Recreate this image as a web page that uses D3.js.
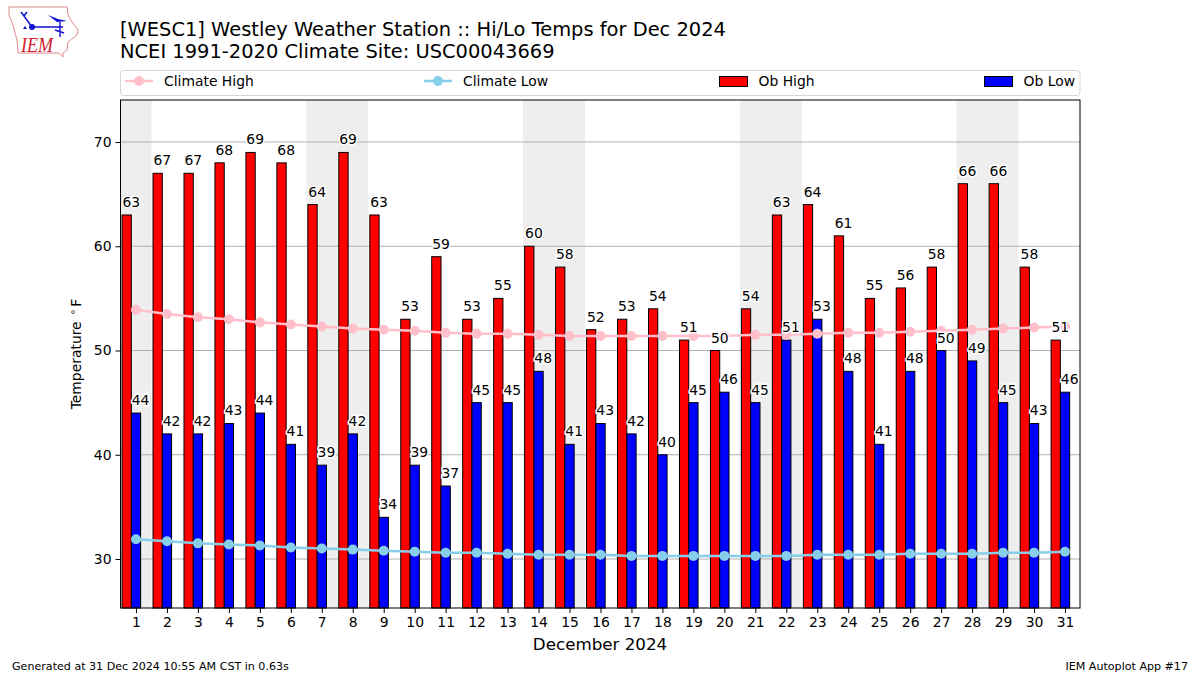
<!DOCTYPE html>
<html>
<head>
<meta charset="utf-8">
<script src="https://cdn.jsdelivr.net/npm/d3@7"></script>
<style>
  body { margin: 0; background: #fff; }
  svg { display: block; }
  text { font-family: "DejaVu Sans", sans-serif; fill: #000; }
</style>
</head>
<body>
<main></main>
<script>
// values
const days = d3.range(1, 32);
const obHigh = [63,67,67,68,69,68,64,69,63,53,59,53,55,60,58,52,53,54,51,50,54,63,64,61,55,56,58,66,66,58,51];
const obLow = [44,42,42,43,44,41,39,42,34,39,37,45,45,48,41,43,42,40,45,46,45,51,53,48,41,48,50,49,45,43,46];
const climateHigh = [53.9,53.5,53.2,53.0,52.7,52.5,52.3,52.1,52.0,51.9,51.7,51.6,51.6,51.5,51.4,51.4,51.4,51.4,51.4,51.4,51.5,51.5,51.6,51.7,51.7,51.8,51.9,52.0,52.1,52.2,52.3];
const climateLow = [31.9,31.7,31.5,31.4,31.3,31.1,31.0,30.9,30.8,30.7,30.6,30.6,30.5,30.4,30.4,30.4,30.3,30.3,30.3,30.3,30.3,30.3,30.4,30.4,30.4,30.5,30.5,30.5,30.6,30.6,30.7];
const weekends = [[0.5,1.5],[6.5,8.5],[13.5,15.5],[20.5,22.5],[27.5,29.5]];
const yTicks = [30,40,50,60,70];

const svgSize = { width: 1200, height: 675 };
const plot = { left: 120.5, right: 1080, top: 100, bottom: 608 };
const barWidth = 0.3;

const svg = d3.select("main").append("svg")
  .attr("width", svgSize.width)
  .attr("height", svgSize.height);

const xScale = d3.scaleLinear().domain([0.5, 31.484]).range([plot.left, plot.right]);
const yScale = d3.scaleLinear().domain([25.3, 74.03]).range([plot.bottom, plot.top]);

// titles
const title = svg.append("g").style("font-size", "19.45px");
title.append("text").attr("x", 120).attr("y", 36).text("[WESC1] Westley Weather Station :: Hi/Lo Temps for Dec 2024");
title.append("text").attr("x", 120).attr("y", 58).text("NCEI 1991-2020 Climate Site: USC00043669");

// weekend bands
svg.append("g").selectAll("rect").data(weekends).enter().append("rect")
  .attr("x", d => xScale(d[0]))
  .attr("y", plot.top)
  .attr("width", d => xScale(d[1]) - xScale(d[0]))
  .attr("height", plot.bottom - plot.top)
  .attr("fill", "#eeeeee");

// gridlines
svg.append("g").selectAll("line").data(yTicks).enter().append("line")
  .attr("x1", plot.left).attr("x2", plot.right)
  .attr("y1", d => yScale(d)).attr("y2", d => yScale(d))
  .attr("stroke", "#b0b0b0").attr("stroke-width", 1);

// bars
const createBars = (values, offset, color) => {
  svg.append("g").selectAll("rect").data(values).enter().append("rect")
    .attr("x", (d, i) => xScale(days[i] + offset))
    .attr("y", d => yScale(d))
    .attr("width", xScale(barWidth) - xScale(0))
    .attr("height", d => plot.bottom - yScale(d))
    .attr("fill", color)
    .attr("stroke", "#000")
    .attr("stroke-width", 1);
};
createBars(obHigh, -0.45, "#ff0000");
createBars(obLow, -0.15, "#0000ff");

// climate lines
const createClimate = (values, color) => {
  const line = d3.line().x((d, i) => xScale(days[i])).y(d => yScale(d));
  svg.append("path").attr("d", line(values))
    .attr("fill", "none").attr("stroke", color).attr("stroke-width", 2.5);
  svg.append("g").selectAll("circle").data(values).enter().append("circle")
    .attr("cx", (d, i) => xScale(days[i]))
    .attr("cy", d => yScale(d))
    .attr("r", 5)
    .attr("fill", color);
};
createClimate(climateHigh, "#ffc0cb");
createClimate(climateLow, "#87ceeb");

// frame and axes
svg.append("rect")
  .attr("x", plot.left).attr("y", plot.top)
  .attr("width", plot.right - plot.left).attr("height", plot.bottom - plot.top)
  .attr("fill", "none").attr("stroke", "#000").attr("stroke-width", 1);

const xAxis = svg.append("g")
  .attr("transform", `translate(0, ${plot.bottom})`)
  .call(d3.axisBottom(xScale).tickValues(days).tickFormat(d3.format("d")).tickSize(5).tickPadding(4));
const yAxis = svg.append("g")
  .attr("transform", `translate(${plot.left}, 0)`)
  .call(d3.axisLeft(yScale).tickValues(yTicks).tickSize(5).tickPadding(4));
[xAxis, yAxis].forEach(a => {
  a.select(".domain").remove();
  a.selectAll("text").style("font-family", '"DejaVu Sans"').style("font-size", "13.9px");
});

// value labels with a white halo
const createLabels = (values, offset) => {
  svg.append("g").selectAll("text").data(values).enter().append("text")
    .attr("x", (d, i) => xScale(days[i] + offset))
    .attr("y", d => yScale(d) - 8)
    .attr("text-anchor", "middle")
    .style("font-size", "13.9px")
    .style("paint-order", "stroke")
    .style("stroke", "#fff")
    .style("stroke-width", "3px")
    .text(d => d);
};
createLabels(obHigh, -0.15);
createLabels(obLow, 0.15);

// axis titles
const yLabel = svg.append("text")
  .attr("transform", "translate(81, 354) rotate(-90)")
  .attr("text-anchor", "middle")
  .style("font-size", "13.9px");
yLabel.append("tspan").text("Temperature ");
yLabel.append("tspan").attr("dx", 2).attr("dy", -5).style("font-size", "10px").text("∘");
yLabel.append("tspan").attr("dx", 2).attr("dy", 5).text("F");

svg.append("text").attr("x", 600).attr("y", 650)
  .attr("text-anchor", "middle").style("font-size", "16.7px").text("December 2024");

// footer
svg.append("text").attr("x", 12).attr("y", 670).style("font-size", "11.1px")
  .text("Generated at 31 Dec 2024 10:55 AM CST in 0.63s");
svg.append("text").attr("x", 1188).attr("y", 670).attr("text-anchor", "end").style("font-size", "11.1px")
  .text("IEM Autoplot App #17");

// legend
const legend = svg.append("g");
legend.append("rect")
  .attr("x", 120.5).attr("y", 70.5).attr("width", 959.5).attr("height", 25).attr("rx", 3)
  .attr("fill", "#fff").attr("stroke", "#d5d5d5");
const legendLine = (x, color, label) => {
  legend.append("line").attr("x1", x).attr("x2", x + 28).attr("y1", 81).attr("y2", 81)
    .attr("stroke", color).attr("stroke-width", 2.5);
  legend.append("circle").attr("cx", x + 14).attr("cy", 81).attr("r", 5).attr("fill", color);
  legend.append("text").attr("x", x + 39).attr("y", 86).style("font-size", "13.9px").text(label);
};
const legendBar = (x, color, label) => {
  legend.append("rect").attr("x", x).attr("y", 76.5).attr("width", 28).attr("height", 10)
    .attr("fill", color).attr("stroke", "#000");
  legend.append("text").attr("x", x + 39).attr("y", 86).style("font-size", "13.9px").text(label);
};
legendLine(125, "#ffc0cb", "Climate High");
legendLine(424, "#87ceeb", "Climate Low");
legendBar(719.5, "#ff0000", "Ob High");
legendBar(984.5, "#0000ff", "Ob Low");

// IEM logo
const logo = svg.append("g");
logo.append("path")
  .attr("d", "M9,7 L67,7 L68,15 L72,22 L78,30 L77,35 L68,42 L67,50 L63,53 L63,57 L59,53 L18,53 L17,40 L13,25 L9,15 Z")
  .attr("fill", "none").attr("stroke", "#e08a90").attr("stroke-width", 1);
logo.append("path")
  .attr("d", "M32,27 L63,27 M32,27 L24,16 L21,12 M24,16 L27,12 M60,22 L60,37 M55,30 L64,33")
  .attr("fill", "none").attr("stroke", "#1010d0").attr("stroke-width", 1.4);
logo.append("path")
  .attr("d", "M48,15 L58,19 L67,21 L57,22 Z")
  .attr("fill", "#1010d0");
logo.append("circle").attr("cx", 32).attr("cy", 27).attr("r", 3).attr("fill", "#1010d0");
logo.append("path")
  .attr("d", "M25,26 L27,29 L23,29 Z")
  .attr("fill", "#1010d0");
logo.append("text").attr("x", 21).attr("y", 52)
  .attr("textLength", 32).attr("lengthAdjust", "spacingAndGlyphs")
  .style("font-family", '"Liberation Serif"').style("font-style", "italic")
  .style("font-size", "22px").style("fill", "#d02030").text("IEM");
</script>
</body>
</html>
